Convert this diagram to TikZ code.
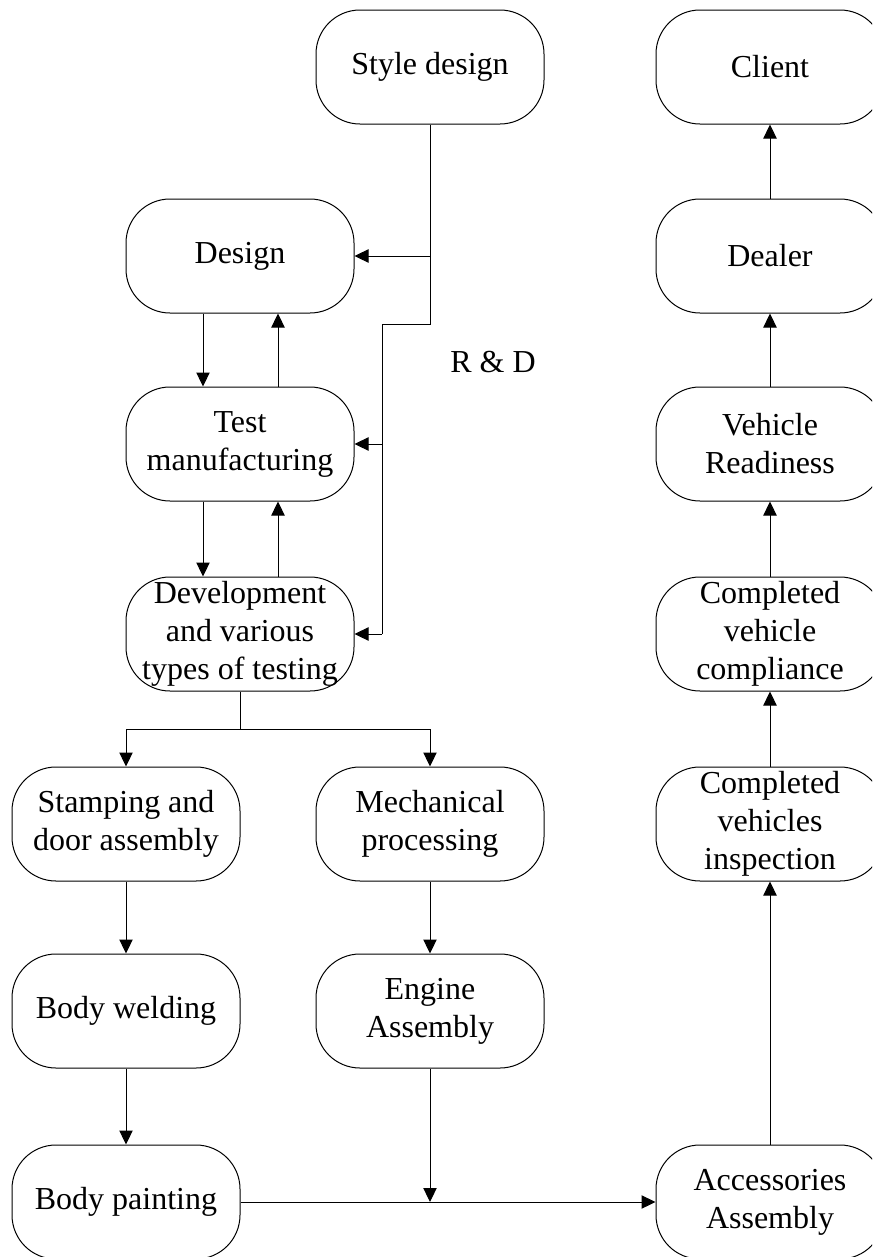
\documentclass[tikz,border=0pt]{standalone}
\usepackage{fontspec}
\setmainfont{Liberation Serif}
\usetikzlibrary{arrows.meta}
\begin{document}
\begin{tikzpicture}[x=0.75pt,y=-0.75pt,
  box/.style={draw,line width=0.75pt,rounded corners=33pt,minimum width=171pt,minimum height=85.5pt,inner sep=0pt,align=center,font=\fontsize{24}{28.5}\selectfont},
  conn/.style={line width=0.75pt},
  arr/.style={conn,-{Triangle[length=10.5pt,width=10pt]}}]
\useasboundingbox (0,0) rectangle (872,1257);
\clip (0,0) rectangle (872,1257);
\node[box] (style) at (430,67) {Style design};
\node[box] (client) at (770,67) {Client};
\node[box] (design) at (240,256) {Design};
\node[box] (dealer) at (770,256) {Dealer};
\node[box] (test) at (240,444) {Test\\manufacturing};
\node[box] (ready) at (770,444) {Vehicle\\Readiness};
\node[box] (dev) at (240,634) {Development\\and various\\types of testing};
\node[box] (compl) at (770,634) {Completed\\vehicle\\compliance};
\node[box] (stamp) at (126,824) {Stamping and\\door assembly};
\node[box] (mech) at (430,824) {Mechanical\\processing};
\node[box] (insp) at (770,824) {Completed\\vehicles\\inspection};
\node[box] (weld) at (126,1011) {Body welding};
\node[box] (engine) at (430,1011) {Engine\\Assembly};
\node[box] (paint) at (126,1202) {Body painting};
\node[box] (acc) at (770,1202) {Accessories\\Assembly};
\node[font=\fontsize{24}{28.5}\selectfont] (rd) at (493,362) {R \& D};
% R&D feedback
\coordinate (s1) at (430,256);
\coordinate (s2) at (430,324);
\coordinate (s3) at (382,324);
\coordinate (s4) at (382,444);
\coordinate (s5) at (382,634);
\draw[conn] (style.south) -- (s2) -- (s3) -- (s5);
\draw[arr] (s1) -- (design.east);
\draw[arr] (s4) -- (test.east);
\draw[arr] (s5) -- (dev.east);
% design loop
\draw[arr] (design.south -| 203,0) -- (test.north -| 203,0);
\draw[arr] (test.north -| 278,0) -- (design.south -| 278,0);
\draw[arr] (test.south -| 203,0) -- (dev.north -| 203,0);
\draw[arr] (dev.north -| 278,0) -- (test.south -| 278,0);
% split
\coordinate (sp) at (240,729);
\draw[conn] (dev.south) -- (sp);
\draw[arr] (sp) -| (stamp.north);
\draw[arr] (sp) -| (mech.north);
\draw[arr] (stamp) -- (weld);
\draw[arr] (weld) -- (paint);
\draw[arr] (mech) -- (engine);
\coordinate (j) at (430,1202);
\draw[arr] (engine.south) -- (j);
\draw[arr] (paint.east) -- (acc.west);
\draw[arr] (acc) -- (insp);
\draw[arr] (insp) -- (compl);
\draw[arr] (compl) -- (ready);
\draw[arr] (ready) -- (dealer);
\draw[arr] (dealer) -- (client);
\end{tikzpicture}
\end{document}
